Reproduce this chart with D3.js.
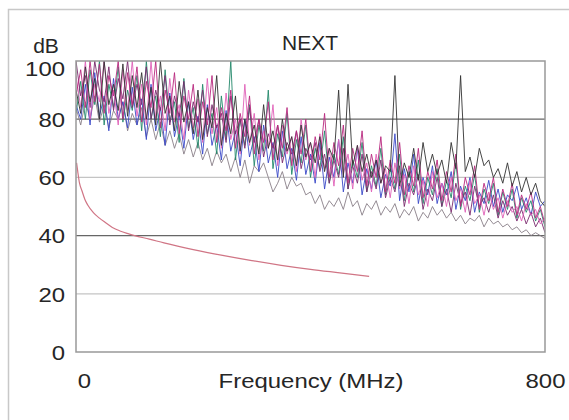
<!DOCTYPE html>
<html>
<head>
<meta charset="utf-8">
<script src="https://cdn.jsdelivr.net/npm/d3@7/dist/d3.min.js"></script>
<style>
  html, body { margin: 0; padding: 0; background: #fff; }
  svg { display: block; }
  text { font-family: "Liberation Sans", Arial, sans-serif; fill: #262626; }
</style>
</head>
<body>
<svg id="chart" width="569" height="420"></svg>
<script>
// ---- data ----
const title = "NEXT";
const yUnit = "dB";
const xLabel = "Frequency (MHz)";
const yTicks = [0, 20, 40, 60, 80, 100];
const xTicks = [0, 800];

const freqs = [0,8,16,24,32,40,48,56,64,72,80,88,96,104,112,120,128,136,144,152,160,168,176,184,192,200,
  208,216,224,232,240,248,256,264,272,280,288,296,304,312,320,328,336,344,352,360,368,376,384,392,400,
  408,416,424,432,440,448,456,464,472,480,488,496,504,512,520,528,536,544,552,560,568,576,584,592,600,
  608,616,624,632,640,648,656,664,672,680,688,696,704,712,720,728,736,744,752,760,768,776,784,792,800];

const seriesMagenta = [88,97,84,100,86,99,82,95,88,100,80,96,85,
  98,79,93,84,100,77,90,82,96,75,88,80,92,
  74,86,78,95,72,84,76,90,70,82,74,88,
  68,80,72,86,66,78,70,84,64,76,68,80,62,
  74,66,82,60,72,64,78,58,70,62,76,57,
  68,60,74,55,66,58,72,54,64,57,70,53,62,
  56,66,52,62,55,68,50,60,54,64,49,58,
  52,60,48,56,50,58,47,54,49,55,46,50,44];
const seriesGreen = [82,93,80,97,85,100,78,92,84,98,79,90,83,
  95,76,100,80,88,74,97,79,86,72,94,77,84,
  70,92,75,82,68,88,73,100,66,80,71,85,
  64,78,69,90,63,75,67,82,61,73,65,78,60,
  70,63,76,58,68,61,74,56,66,60,72,55,
  64,57,70,54,63,56,68,52,62,55,66,51,60,
  54,63,50,59,53,65,49,57,52,61,48,56,
  51,58,47,55,49,56,46,53,48,52,45,49,43];
const seriesBlue = [85,80,92,78,96,81,88,76,94,80,86,77,91,
  78,87,73,92,76,84,71,89,74,82,70,86,73,
  81,68,85,71,78,66,83,69,76,64,80,67,
  74,62,78,65,72,60,76,63,70,59,74,61,68,
  58,72,56,67,60,73,55,65,58,70,54,63,
  56,66,53,61,57,75,52,63,55,68,51,60,54,
  64,51,58,54,62,49,57,52,60,48,55,51,
  59,50,56,48,54,52,57,49,53,47,55,50,52];
const seriesPink = [95,84,100,80,92,86,100,82,90,78,97,83,100,
  81,92,78,100,80,88,76,94,79,85,73,90,77,
  87,72,94,75,84,70,89,73,80,68,92,71,
  82,66,76,70,85,64,78,68,74,62,80,66,72,
  60,75,63,70,57,73,61,68,56,71,59,65,
  55,68,58,63,53,65,56,61,51,64,54,59,50,
  62,53,58,50,60,52,56,48,59,51,54,47,
  55,49,53,46,52,48,50,45,51,47,49,44,46];
const seriesBlack = [90,82,98,86,94,80,100,85,92,83,99,81,95,
  84,96,80,91,78,100,82,88,76,93,79,86,75,
  90,73,84,77,95,71,82,75,88,69,80,72,
  78,68,85,70,76,66,80,69,74,64,78,67,72,
  65,74,62,70,66,90,60,92,64,71,62,68,
  60,66,58,64,62,95,57,65,60,70,59,72,62,
  68,61,66,58,72,63,95,62,67,60,70,64,
  66,60,63,58,65,57,62,55,60,54,58,52,50];
const seriesPurple = [100,88,95,84,100,90,86,98,83,94,87,100,84,
  92,85,98,80,90,83,95,78,88,81,93,76,86,
  79,90,74,85,77,82,72,88,75,80,70,84,
  72,80,67,75,70,78,65,72,68,76,63,70,66,
  72,62,68,58,66,60,70,56,64,58,68,55,
  62,56,66,53,60,55,64,50,58,54,61,49,56,
  52,60,50,56,48,58,51,55,47,57,50,53,
  48,54,46,52,47,50,45,49,44,48,43,46,41];
const seriesGray = [84,78,86,80,88,79,85,77,83,80,86,76,82,
  78,84,74,80,73,79,71,76,70,75,68,73,67,
  72,66,70,64,69,65,68,62,67,60,66,58,
  64,62,65,60,55,58,62,56,60,57,58,54,55,
  51,54,49,52,50,53,49,55,50,52,47,51,
  49,52,47,50,48,51,46,49,47,50,45,48,46,
  50,47,49,46,48,45,47,44,46,45,47,43,
  46,44,45,43,44,42,43,41,42,40,41,40,39];

const limitFreqs  = [1,3,6,10,15,20,30,40,50,62,75,90,100,125,150,200,250,300,350,400,450,500];
const limitValues = [65,62,58,55.5,52.5,50.5,47.8,46,44.5,42.8,41.6,40.6,40,38.8,37.5,35.2,33.2,31.4,29.8,28.4,27.2,26];

const measured = [
  { name: "gray",    values: seriesGray,    color: "#8a7f88" },
  { name: "blue",    values: seriesBlue,    color: "#3a48c8" },
  { name: "green",   values: seriesGreen,   color: "#23886a" },
  { name: "purple",  values: seriesPurple,  color: "#7a2a6e" },
  { name: "pink",    values: seriesPink,    color: "#e060b8" },
  { name: "magenta", values: seriesMagenta, color: "#b8287e" },
  { name: "black",   values: seriesBlack,   color: "#333333" }
];

// ---- layout ----
const svg = d3.select("#chart");
const M = { left: 76, right: 545, top: 61, bottom: 352 };
const x = d3.scaleLinear().domain([0, 800]).range([M.left, M.right]);
const y = d3.scaleLinear().domain([0, 100]).range([M.bottom, M.top]);
const SX = 1.14;   // horizontal stretch of the label glyphs
const FS = 21;

// outer frame
svg.append("rect").attr("x", 8.5).attr("y", 9.5).attr("width", 600).attr("height", 430)
  .attr("fill", "none").attr("stroke", "#c8c8c8").attr("stroke-width", 1.5);

// gridlines
const gridColor = v => (v === 80 || v === 40) ? "#666" : "#c4c4c4";
svg.append("g").selectAll("line").data([20, 40, 60, 80]).join("line")
  .attr("x1", M.left).attr("x2", M.right)
  .attr("y1", d => y(d)).attr("y2", d => y(d))
  .attr("stroke", gridColor).attr("stroke-width", 1.2);

svg.append("defs").append("clipPath").attr("id", "clip")
  .append("rect").attr("x", M.left).attr("y", M.top).attr("width", M.right - M.left).attr("height", M.bottom - M.top);

const line = d3.line().x(d => x(d[0])).y(d => y(d[1]));
const gLines = svg.append("g").attr("clip-path", "url(#clip)");
measured.forEach(s => {
  gLines.append("path")
    .datum(freqs.map((f, i) => [f, s.values[i]]))
    .attr("d", line).attr("fill", "none")
    .attr("stroke", s.color).attr("stroke-width", 1).attr("stroke-opacity", 0.9);
});
gLines.append("path")
  .datum(limitFreqs.map((f, i) => [f, limitValues[i]]))
  .attr("d", d3.line().curve(d3.curveMonotoneX).x(d => x(d[0])).y(d => y(d[1])))
  .attr("fill", "none").attr("stroke", "#d07585").attr("stroke-width", 1.2);

// plot border
svg.append("rect").attr("x", M.left).attr("y", M.top)
  .attr("width", M.right - M.left).attr("height", M.bottom - M.top)
  .attr("fill", "none").attr("stroke", "#999").attr("stroke-width", 1.5);

// y axis labels
const yAxis = d3.axisLeft(y).tickValues(yTicks).tickSize(0).tickPadding(11).tickFormat(d3.format("d"));
const gy = svg.append("g").attr("transform", `translate(${M.left},0)`).call(yAxis);
gy.select(".domain").remove();
gy.selectAll("text").attr("font-size", FS).attr("fill", "#262626")
  .style("font-family", '"Liberation Sans", Arial, sans-serif')
  .attr("x", -11 / SX)
  .attr("transform", `scale(${SX},1)`)
  .attr("dy", d => d === 100 ? "0.67em" : "0.35em");

// x axis labels
const xAxis = d3.axisBottom(x).tickValues(xTicks).tickSize(0).tickPadding(21).tickFormat(d3.format("d"));
const gx = svg.append("g").attr("transform", `translate(0,${M.bottom})`).call(xAxis);
gx.select(".domain").remove();
gx.selectAll("text").attr("font-size", FS).attr("fill", "#262626")
  .style("font-family", '"Liberation Sans", Arial, sans-serif')
  .attr("transform", `scale(${SX},1)`)
  .attr("dx", d => d === 0 ? 8 / SX : 0);

// titles
svg.append("text").attr("transform", "translate(310,50)").attr("text-anchor", "middle")
  .attr("font-size", FS).text(title);
svg.append("text").attr("transform", "translate(46,53)").attr("text-anchor", "middle")
  .attr("font-size", FS).text(yUnit);
svg.append("text").attr("transform", `translate(311,388) scale(${SX},1)`).attr("text-anchor", "middle")
  .attr("font-size", FS).text(xLabel);
</script>
</body>
</html>
